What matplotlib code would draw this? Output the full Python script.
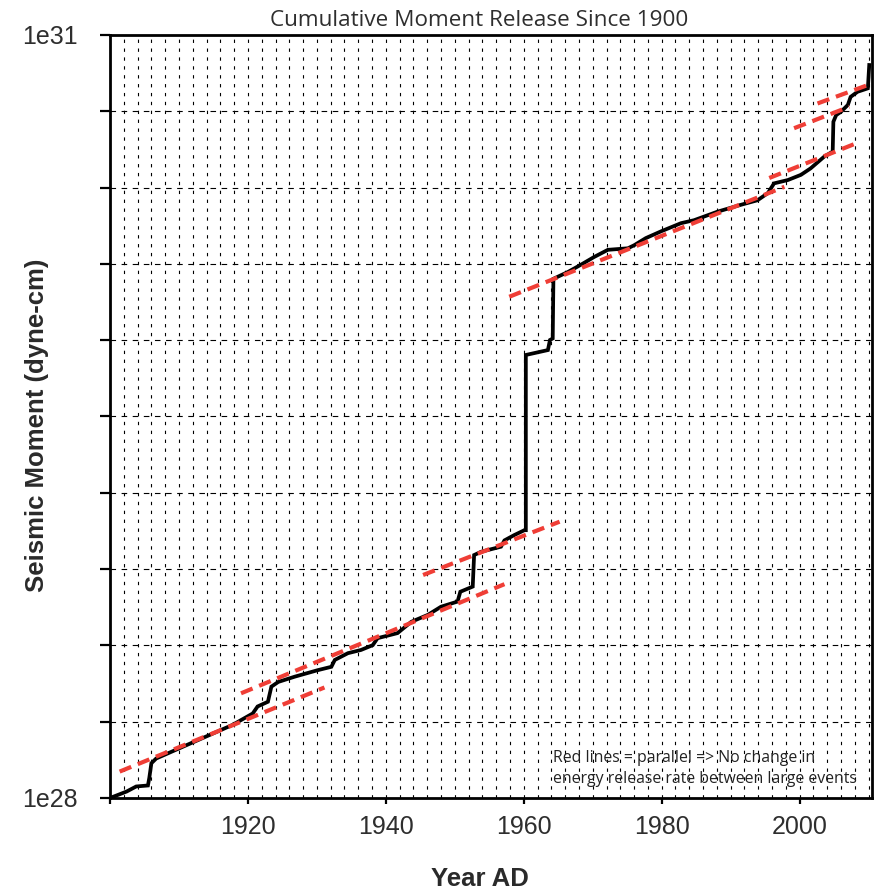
import matplotlib
matplotlib.use("Agg")
import matplotlib.pyplot as plt
from matplotlib.ticker import FixedLocator, NullLocator

# Cumulative seismic moment (dyne-cm) since 1900
years = [1900.0, 1902.4, 1903.8, 1905.5, 1905.7, 1906.0, 1906.7, 1917.8, 1920.7,
         1921.4, 1922.9, 1923.4, 1924.4, 1926.8, 1930.1, 1932.1, 1932.6, 1934.5,
         1936.4, 1938.1, 1938.8, 1941.7, 1943.7, 1946.1, 1948.0, 1950.4, 1950.8,
         1952.6, 1952.8, 1953.8, 1956.7, 1957.2, 1958.6, 1960.1, 1960.3, 1960.3,
         1963.5, 1963.8, 1964.2, 1964.3, 1966.4, 1968.3, 1970.2, 1972.2, 1975.1,
         1976.0, 1977.7, 1979.9, 1982.8, 1984.7, 1988.1, 1991.5, 1993.9, 1995.4,
         1996.3, 1998.3, 2000.2, 2001.6, 2003.6, 2004.8, 2004.9, 2005.3, 2006.0,
         2007.0, 2007.4, 2008.4, 2009.9, 2010.1]
moment = [1.00e28, 1.06e28, 1.11e28, 1.12e28, 1.20e28, 1.37e28, 1.43e28, 1.94e28, 2.15e28,
          2.29e28, 2.39e28, 2.74e28, 2.86e28, 3.00e28, 3.18e28, 3.28e28, 3.49e28, 3.71e28,
          3.82e28, 3.99e28, 4.25e28, 4.45e28, 4.93e28, 5.25e28, 5.65e28, 5.92e28, 6.47e28,
          6.78e28, 9.02e28, 9.29e28, 9.73e28, 1.03e29, 1.08e29, 1.13e29, 1.13e29, 5.52e29,
          5.77e29, 6.32e29, 6.41e29, 1.10e30, 1.17e30, 1.25e30, 1.34e30, 1.43e30, 1.45e30,
          1.49e30, 1.59e30, 1.69e30, 1.82e30, 1.87e30, 2.02e30, 2.15e30, 2.24e30, 2.39e30,
          2.61e30, 2.69e30, 2.82e30, 2.99e30, 3.33e30, 3.48e30, 4.56e30, 4.84e30, 4.99e30,
          5.31e30, 5.71e30, 5.98e30, 6.17e30, 7.62e30]

# Parallel background-rate trend lines between large events
trend_start_year = [1901.4, 1919.0, 1945.4, 1957.9, 1995.6, 1999.2, 2002.6]
trend_end_year = [1931.1, 1957.2, 1965.2, 1997.8, 2008.2, 2007.2, 2010.6]
trend_start = [1.27e28, 2.58e28, 7.53e28, 9.35e29, 2.74e30, 4.30e30, 5.38e30]
trend_end = [2.72e28, 6.93e28, 1.22e29, 2.53e30, 3.75e30, 5.22e30, 6.46e30]

x_ticks = [1900, 1920, 1940, 1960, 1980, 2000]
x_tick_labels = ["", "1920", "1940", "1960", "1980", "2000"]
y_ticks = [10 ** (28 + 0.3 * k) for k in range(11)]
y_tick_labels = ["1e28"] + [""] * 9 + ["1e31"]
v_grid_years = list(range(1902, 2011, 2))

W, H = 879, 891
fig = plt.figure(figsize=(W / 100, H / 100), dpi=100)
ax = fig.add_axes([110 / W, 1 - 798 / H, (872 - 110) / W, (798 - 35) / H])

ax.set_yscale("log")
ax.set_xlim(1900, 2010.5)
ax.set_ylim(1e28, 1e31)

# grid
for yr in v_grid_years:
    ax.axvline(yr, color="black", lw=0.8, ls=(0, (3, 5)), zorder=1)
for yv in y_ticks[1:-1]:
    ax.axhline(yv, color="black", lw=0.8, ls=(0, (5, 5)), zorder=1)

ax.plot(years, moment, color="black", lw=2.7, solid_joinstyle="miter", zorder=3)
for x0, x1, y0, y1 in zip(trend_start_year, trend_end_year, trend_start, trend_end):
    ax.plot([x0, x1], [y0, y1], color="#ef3e36", lw=3.0, ls=(0, (3.0, 1.7)),
            dash_capstyle="butt", zorder=4)

for s in ax.spines.values():
    s.set_linewidth(2.0)

ax.yaxis.set_major_locator(FixedLocator(y_ticks))
ax.yaxis.set_minor_locator(NullLocator())
ax.set_yticklabels(y_tick_labels)
ax.set_xticks(x_ticks)
ax.set_xticklabels(x_tick_labels)
ax.tick_params(axis="y", direction="out", length=7, width=1.6, pad=16,
               labelsize=18, labelcolor="#2e2e2e")
ax.tick_params(axis="x", direction="out", length=4, width=1.6, pad=8,
               labelsize=18, labelcolor="#2e2e2e")
for lab in ax.get_xticklabels() + ax.get_yticklabels():
    lab.set_family("Liberation Sans")

fig.text(479 / W, 1 - 26 / H, "Cumulative Moment Release Since 1900",
         ha="center", va="baseline", fontsize=16.2, family="Open Sans",
         color="#2e2e2e")
fig.text(480 / W, 5 / H, "Year AD", ha="center", va="baseline",
         fontsize=18.5, fontweight="bold", family="Liberation Sans", color="#2a2a2a")
fig.text(37 / W, 1 - 425 / H, "Seismic Moment (dyne-cm)", rotation=90,
         ha="center", va="center", fontsize=18.5, fontweight="bold",
         family="Liberation Sans", color="#2a2a2a")
fig.text(553 / W, 1 - 762 / H, "Red lines = parallel => No change in",
         ha="left", va="baseline", fontsize=11.4, family="Open Sans", color="#222222")
fig.text(553 / W, 1 - 783 / H, "energy release rate between large events",
         ha="left", va="baseline", fontsize=11.4, family="Open Sans", color="#222222")

fig.savefig("out.png", dpi=100)
